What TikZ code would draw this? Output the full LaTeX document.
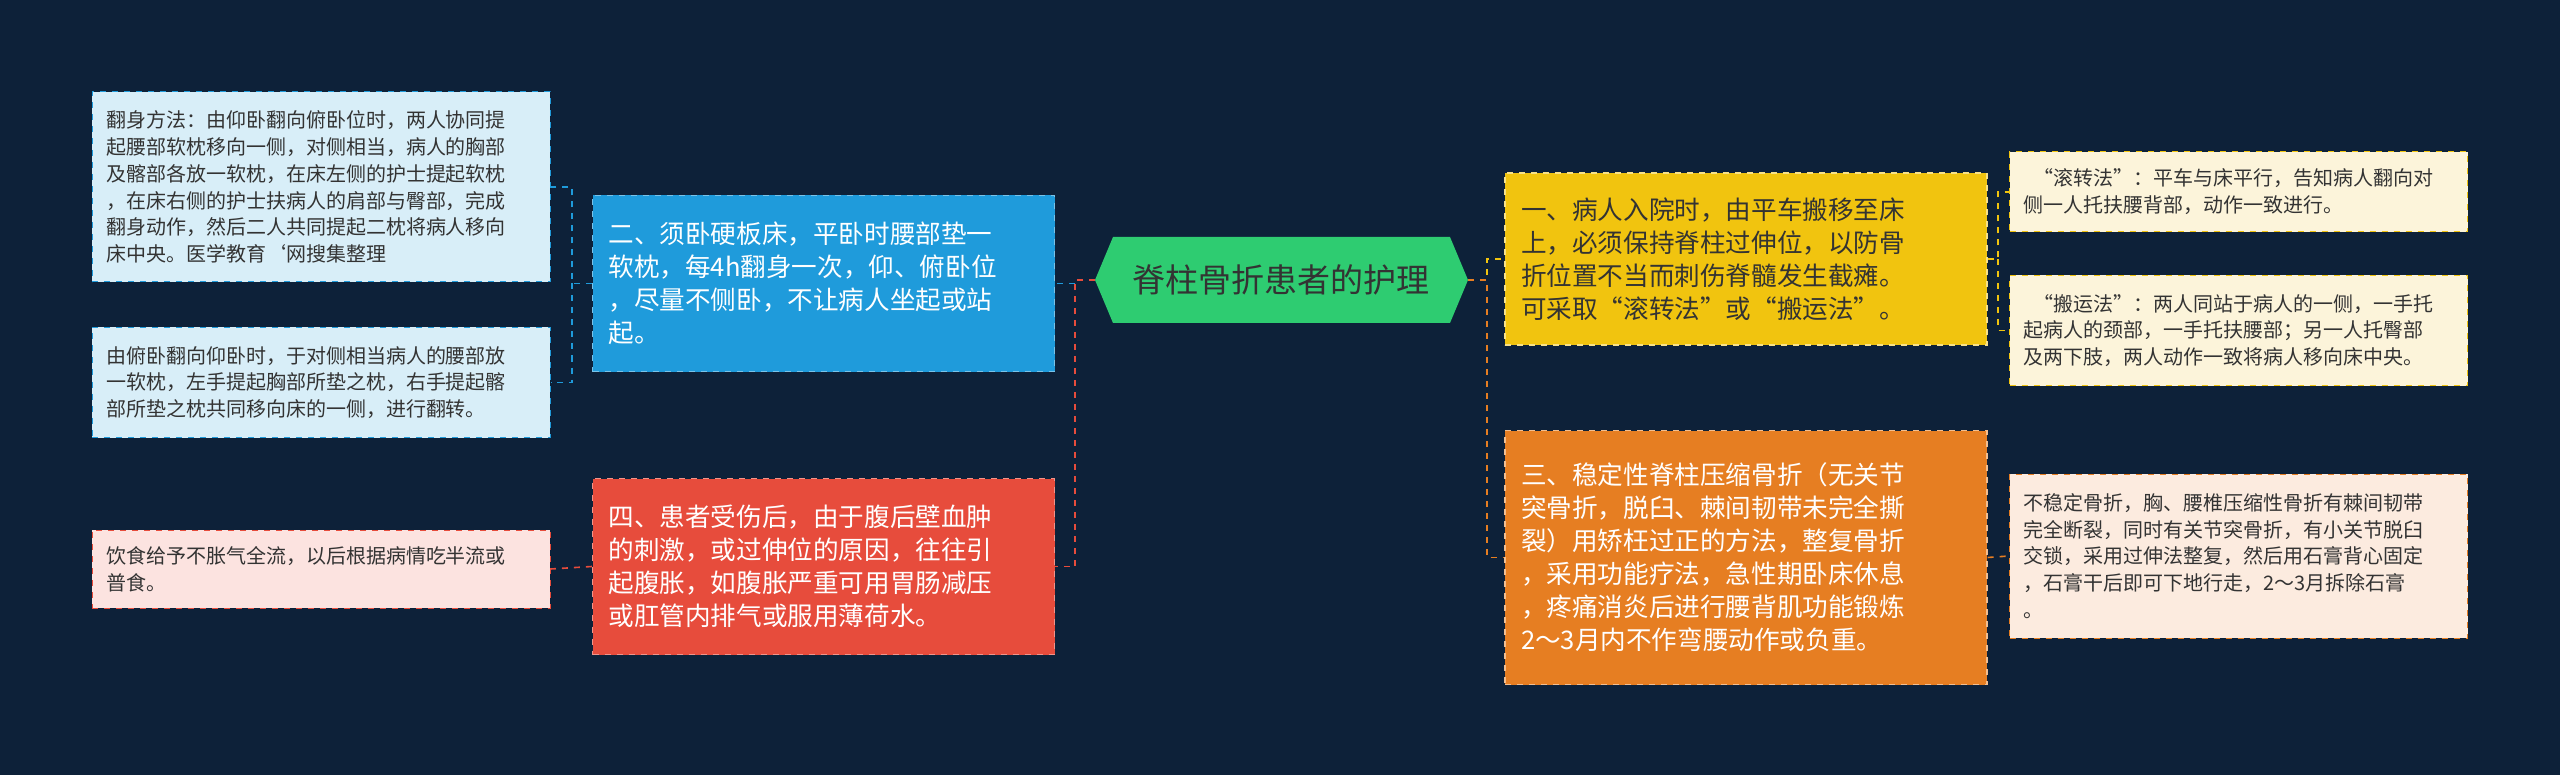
\documentclass[tikz,border=0pt]{standalone}
\usepackage{fontspec}
\setmainfont{Noto Sans CJK SC}
\usetikzlibrary{positioning}
\definecolor{bg}{HTML}{0D2139}
\definecolor{cgreen}{HTML}{2ECC71}
\definecolor{cblue}{HTML}{1F9BDB}
\definecolor{cred}{HTML}{E74C3C}
\definecolor{cyellow}{HTML}{F1C40F}
\definecolor{corange}{HTML}{E67E22}
\definecolor{lblue}{HTML}{D8EEF8}
\definecolor{lpink}{HTML}{FCE3E0}
\definecolor{lyel}{HTML}{FCF4DA}
\definecolor{lorg}{HTML}{FCEBDF}
\definecolor{tdark}{HTML}{333333}
\tikzset{
 mainbox/.style={minimum width=#1, inner sep=0pt, align=left, font=\fontsize{12.8}{16.5}\selectfont, dashed, line width=0.6pt},
 leaf/.style={inner sep=0pt, align=left, font=\fontsize{10}{13.4}\selectfont, text=tdark, dashed, line width=0.5pt},
 con/.style={dashed, line width=0.8pt},
}
\begin{document}
\begin{tikzpicture}[x=0.5pt,y=-0.5pt]
\fill[bg] (0,0) rectangle (2560,775);
\useasboundingbox (0,0) rectangle (2560,775);
% center
\fill[cgreen] (1095,280) -- (1113,237) -- (1450,237) -- (1468,280) -- (1450,323) -- (1113,323) -- cycle;
\node[minimum width=186pt, minimum height=43pt, font=\fontsize{16.5}{20}\selectfont, text=tdark] (c) at (1281,280) {脊柱骨折患者的护理};
% main nodes
\node[mainbox=231pt, minimum height=88pt, fill=cblue, draw=cblue!60!white, text=white, text width=215pt] (b) at (823.5,283.5) {二、须卧硬板床，平卧时腰部垫一\\软枕，每4h翻身一次，仰、俯卧位\\，尽量不侧卧，不让病人坐起或站\\起。};
\node[mainbox=231pt, minimum height=88pt, fill=cred, draw=cred!60!white, text=white, text width=215pt] (r) at (823.5,566.5) {四、患者受伤后，由于腹后壁血肿\\的刺激，或过伸位的原因，往往引\\起腹胀，如腹胀严重可用胃肠减压\\或肛管内排气或服用薄荷水。};
\node[mainbox=241pt, minimum height=86pt, fill=cyellow, draw=cyellow!50!white, text=tdark, text width=225pt] (y) at (1746,259) {一、病人入院时，由平车搬移至床\\上，必须保持脊柱过伸位，以防骨\\折位置不当而刺伤脊髓发生截瘫。\\可采取“滚转法”或“搬运法”。};
\node[mainbox=241pt, minimum height=127pt, fill=corange, draw=corange!50!white, text=white, text width=225pt] (o) at (1746,557.5) {三、稳定性脊柱压缩骨折（无关节\\突骨折，脱臼、棘间韧带未完全撕\\裂）用矫枉过正的方法，整复骨折\\，采用功能疗法，急性期卧床休息\\，疼痛消炎后进行腰背肌功能锻炼\\2～3月内不作弯腰动作或负重。};
% leaves left
\node[leaf, fill=lblue, draw=cblue, minimum width=229pt, minimum height=95pt, text width=215pt] (l1) at (321,187) {翻身方法：由仰卧翻向俯卧位时，两人协同提\\起腰部软枕移向一侧，对侧相当，病人的胸部\\及髂部各放一软枕，在床左侧的护士提起软枕\\，在床右侧的护士扶病人的肩部与臀部，完成\\翻身动作，然后二人共同提起二枕将病人移向\\床中央。医学教育`网搜集整理};
\node[leaf, fill=lblue, draw=cblue, minimum width=229pt, minimum height=55pt, text width=215pt] (l2) at (321,382.5) {由俯卧翻向仰卧时，于对侧相当病人的腰部放\\一软枕，左手提起胸部所垫之枕，右手提起髂\\部所垫之枕共同移向床的一侧，进行翻转。};
\node[leaf, fill=lpink, draw=cred, minimum width=229pt, minimum height=39pt, text width=215pt] (l3) at (321,569) {饮食给予不胀气全流，以后根据病情吃半流或\\普食。};
% leaves right
\node[leaf, fill=lyel, draw=cyellow, minimum width=229pt, minimum height=40pt, text width=215pt] (r1) at (2238.5,192) {\hspace*{0.5em}“滚转法”：平车与床平行，告知病人翻向对\\侧一人托扶腰背部，动作一致进行。};
\node[leaf, fill=lyel, draw=cyellow, minimum width=229pt, minimum height=55pt, text width=215pt] (r2) at (2238.5,330.5) {\hspace*{0.5em}“搬运法”：两人同站于病人的一侧，一手托\\起病人的颈部，一手托扶腰部；另一人托臀部\\及两下肢，两人动作一致将病人移向床中央。};
\node[leaf, fill=lorg, draw=corange, minimum width=229pt, minimum height=82pt, text width=215pt] (r3) at (2238.5,556) {不稳定骨折，胸、腰椎压缩性骨折有棘间韧带\\完全断裂，同时有关节突骨折，有小关节脱臼\\交锁，采用过伸法整复，然后用石膏背心固定\\，石膏干后即可下地行走，2～3月拆除石膏\\。};
% connectors
\coordinate (cl) at (1095,280);
\coordinate (cr) at (1468,280);
\draw[con, cblue] (cl) -- (1075,280) -- (1075,283.5) -- (b.east);
\draw[con, cred] (cl) -- (1075,280) -- (1075,566.5) -- (r.east);
\draw[con, cyellow] (cr) -- (1487,280) -- (1487,259) -- (y.west);
\draw[con, corange] (cr) -- (1487,280) -- (1487,557.5) -- (o.west);
\draw[con, cblue] (b.west) -- (572,283.5) -- (572,187) -- (l1.east);
\draw[con, cblue] (572,283.5) -- (572,382.5) -- (l2.east);
\draw[con, cred] (r.west) -- (l3.east);
\draw[con, cyellow] (y.east) -- (1998,259) -- (1998,192) -- (r1.west);
\draw[con, cyellow] (1998,259) -- (1998,330.5) -- (r2.west);
\draw[con, corange] (o.east) -- (r3.west);
\end{tikzpicture}
\end{document}
